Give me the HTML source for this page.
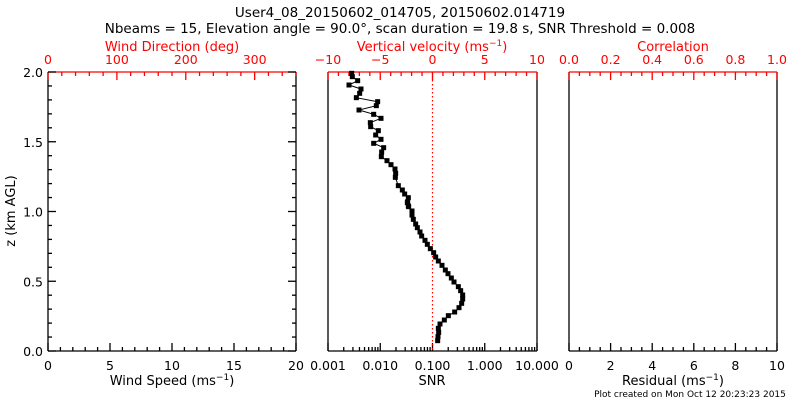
<!DOCTYPE html>
<html><head><meta charset="utf-8"><style>
html,body{margin:0;padding:0;background:#fff;}
svg{display:block;font-family:"DejaVu Sans","Liberation Sans",sans-serif;}
</style></head><body>
<svg id="s" width="800" height="400" viewBox="0 0 800 400" xmlns="http://www.w3.org/2000/svg">
<rect width="800" height="400" fill="#fff"/>
<text x="400" y="17" font-size="13.5" text-anchor="middle">User4_08_20150602_014705, 20150602.014719</text>
<text x="400" y="33" font-size="13.5" text-anchor="middle">Nbeams = 15, Elevation angle = 90.0°, scan duration = 19.8 s, SNR Threshold = 0.008</text>
<text x="172" y="51" font-size="13" text-anchor="middle" fill="#f00">Wind Direction (deg)</text>
<text x="432" y="51" font-size="13" text-anchor="middle" fill="#f00">Vertical velocity (ms<tspan dy="-5" font-size="9">−1</tspan><tspan dy="5">)</tspan></text>
<text x="673" y="51" font-size="13" text-anchor="middle" fill="#f00">Correlation</text>
<text x="172" y="385" font-size="13" text-anchor="middle">Wind Speed (ms<tspan dy="-5" font-size="9">−1</tspan><tspan dy="5">)</tspan></text>
<text x="432" y="385" font-size="13" text-anchor="middle">SNR</text>
<text x="673" y="385" font-size="13" text-anchor="middle">Residual (ms<tspan dy="-5" font-size="9">−1</tspan><tspan dy="5">)</tspan></text>
<text x="690" y="397" font-size="9" text-anchor="middle">Plot created on Mon Oct 12 20:23:23 2015</text>
<text transform="translate(15,211) rotate(-90)" font-size="13" text-anchor="middle">z (km AGL)</text>
<g id="g"></g>
</svg>
<script>
var g=document.getElementById('g'),NS='http://www.w3.org/2000/svg';
function el(t,a,txt){var e=document.createElementNS(NS,t);for(var k in a)e.setAttribute(k,a[k]);if(txt!==undefined)e.textContent=txt;g.appendChild(e);return e;}
var T=72,B=351;
function ln(x1,y1,x2,y2,c){el('line',{x1:x1,y1:y1,x2:x2,y2:y2,stroke:c||'#000','stroke-width':1.3});}
function tx(x,y,s,c,anc){el('text',{x:x,y:y,'font-size':12.5,'text-anchor':anc||'middle',fill:c||'#000'},s);}
var P=[[48,296],[328,537],[569,777]];
P.forEach(function(p){ln(p[0],B,p[1],B);ln(p[0],T,p[0],B);ln(p[1],T,p[1],B);ln(p[0],T,p[1],T,'#f00');});
function axisX(L,R,min,max,maj,mn,y,dir,c,fmt){
 for(var v=min;v<=max+1e-9;v+=mn){var x=L+(v-min)/(max-min)*(R-L);var m=Math.abs(Math.round(v/maj)*maj-v)<1e-6;ln(x,y,x,y+dir*(m?8:4),c);}
 for(var v=min;v<=max+1e-9;v+=maj){var x=L+(v-min)/(max-min)*(R-L);if(fmt)tx(x,dir>0?y-8:y+19,fmt(v),c);}
}
axisX(48,296,0,20,5,1,B,-1,'#000',function(v){return v.toFixed(0)});
axisX(48,296,0,360,100,20,T,1,'#f00',null);
[0,100,200,300].forEach(function(v){tx(48+v/360*248,64,String(v),'#f00');});
for(var i=0;i<=20;i++){var y=B-i/20*(B-T);var m=i%5==0;ln(48,y,48+(m?8:4),y);ln(296,y,296-(m?8:4),y);if(m)tx(43,y+5,(i/10).toFixed(1),'#000','end');}
axisX(328,537,-10,10,5,1,T,1,'#f00',function(v){return v==0?'0':(v<0?'−':'')+Math.abs(v)});
var dec=['0.001','0.010','0.100','1.000','10.000'];
for(var d=0;d<4;d++){for(var k=1;k<10;k++){var x=328+(d+Math.log10(k))*(537-328)/4;ln(x,B,x,B-(k==1?8:4));}}
ln(537,B,537,B-8);
dec.forEach(function(s,d){tx(328+d*(537-328)/4,370,s);});
axisX(569,777,0,1,0.2,0.05,T,1,'#f00',function(v){return v.toFixed(1)});
axisX(569,777,0,10,2,0.5,B,-1,'#000',function(v){return v.toFixed(0)});
el('line',{x1:432.5,y1:T,x2:432.5,y2:B,stroke:'#f00','stroke-width':1.2,'stroke-dasharray':'1.5,2.5'});
var z1=[[125,40],[127,50],[143,62],[117,75],[153,87],[149,100],[139,113],[203,125],[199,137],[147,150],[191,163],[213,175],[181,188],[182,200],[205,212],[197,225],[213,238],[191,250],[221,263],[215,276],[214,290],[231,302],[243,314],[255,327],[257,340],[256,352],[265,377],[277,390],[284,402],[295,413],[293,425],[295,438]];
var z2=[[292,8],[296,20],[306,33],[306,45],[310,58],[317,72],[322,83],[330,96],[335,108],[345,121],[352,133],[361,146],[371,158],[377,171],[385,183],[396,196],[406,210],[414,221],[424,234],[432,246],[445,260],[452,272],[458,285],[458,297],[455,310],[447,323],[434,336],[415,347],[403,360],[390,372],[385,385],[386,397],[384,410],[383,422]];
var pts=z1.map(function(p){return [310+p[0]/3,60+p[1]/3]}).concat(z2.map(function(p){return [310+p[0]/3,200+p[1]/3]}));
el('polyline',{points:pts.map(function(p){return p[0].toFixed(1)+','+p[1].toFixed(1)}).join(' '),fill:'none',stroke:'#000','stroke-width':1});
pts.forEach(function(p){el('rect',{x:p[0]-2.5,y:p[1]-2.5,width:5,height:5,fill:'#000'});});
</script>
</body></html>
